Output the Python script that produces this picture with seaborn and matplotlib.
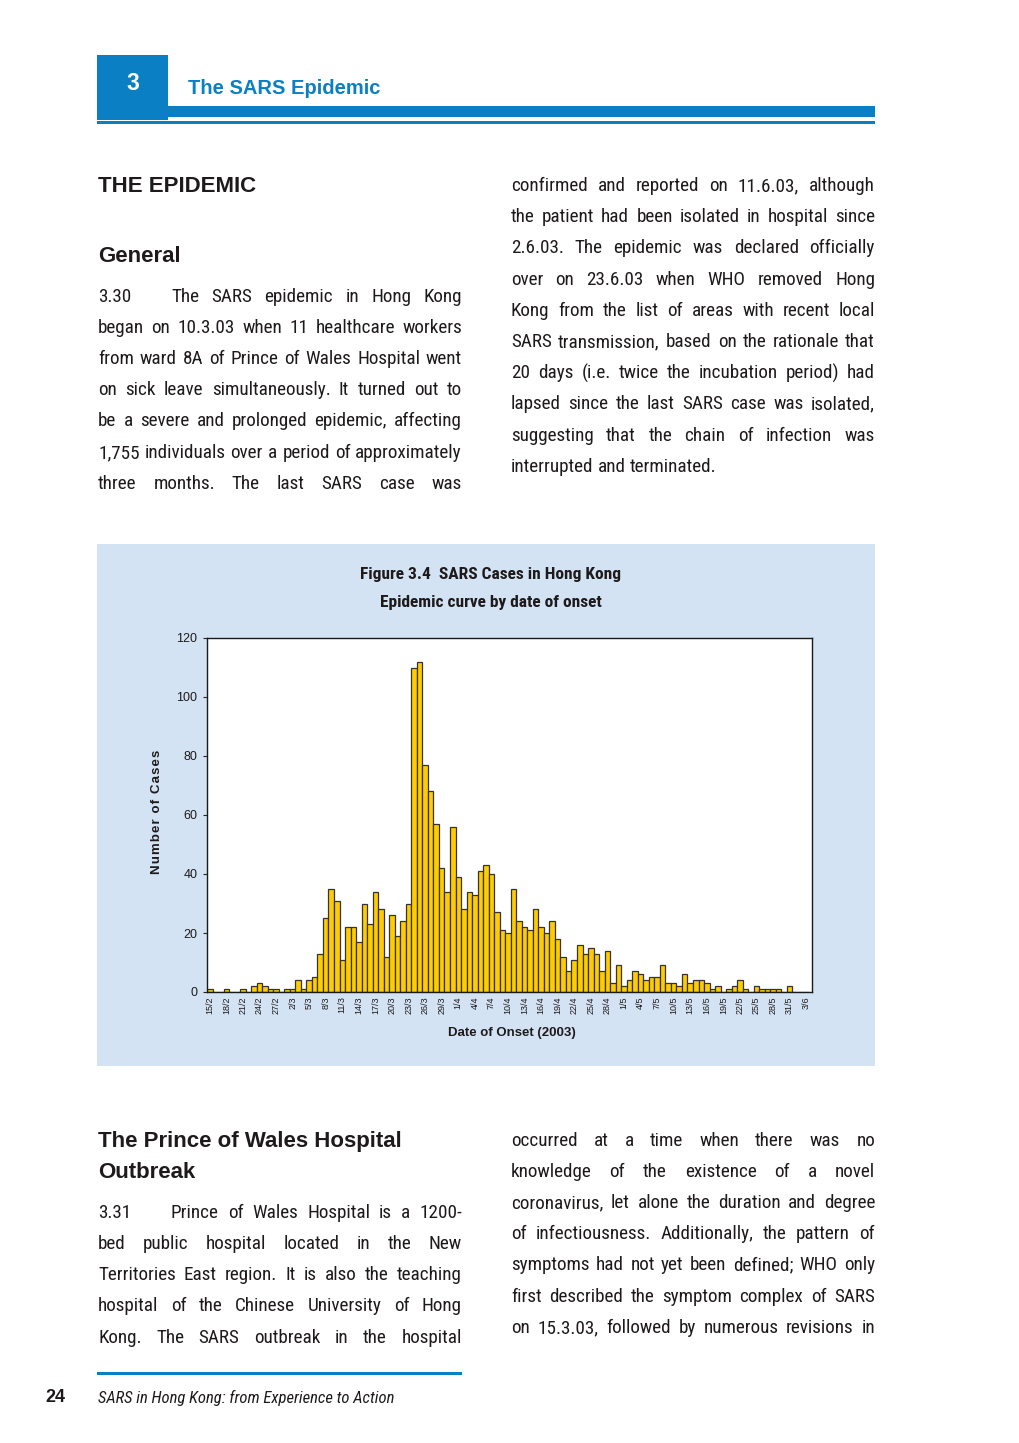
import matplotlib
matplotlib.use("Agg")
import matplotlib.pyplot as plt
import pandas as pd
import seaborn as sns
from matplotlib import font_manager as fm
from matplotlib.patches import Rectangle

# page size in pixels (dpi=100)
W, H = 1020, 1443

# ---- chart data: SARS cases by date of onset, 15/2/2003 - 3/6/2003 ----
onset_dates = pd.date_range("2003-02-15", "2003-06-03", freq="D")
date_labels = [f"{d.day}/{d.month}" for d in onset_dates]

cases_feb = [1, 0, 0, 1, 0, 0, 1, 0, 2, 3, 2, 1, 1, 0]
cases_mar = [1, 1, 4, 1, 4, 5, 13, 25, 35, 31,
             11, 22, 22, 17, 30, 23, 34, 28, 12, 26,
             19, 24, 30, 110, 112, 77, 68, 57, 42, 34, 56]
cases_apr = [39, 28, 34, 33, 41, 43, 40, 27, 21, 20,
             35, 24, 22, 21, 28, 22, 20, 24, 18, 12,
             7, 11, 16, 13, 15, 13, 7, 14, 3, 9]
cases_may = [2, 4, 7, 6, 4, 5, 5, 9, 3, 3,
             2, 6, 3, 4, 4, 3, 1, 2, 0, 1,
             2, 4, 1, 0, 2, 1, 1, 1, 1, 0, 2]
cases_jun = [0, 0, 0]
cases = cases_feb + cases_mar + cases_apr + cases_may + cases_jun

y_ticks = [0, 20, 40, 60, 80, 100, 120]

# ---- page text ----
left_top = [
    "began on 10.3.03 when 11 healthcare workers",
    "from ward 8A of Prince of Wales Hospital went",
    "on sick leave simultaneously.  It turned out to",
    "be a severe and prolonged epidemic, affecting",
    "1,755 individuals over a period of approximately",
    "three months.  The last SARS case was",
]
right_top = [
    "confirmed and reported on 11.6.03, although",
    "the patient had been isolated in hospital since",
    "2.6.03.  The epidemic was declared officially",
    "over on 23.6.03 when WHO removed Hong",
    "Kong from the list of areas with recent local",
    "SARS transmission, based on the rationale that",
    "20 days (i.e. twice the incubation period) had",
    "lapsed since the last SARS case was isolated,",
    "suggesting that the chain of infection was",
    "interrupted and terminated.",
]
left_bottom = [
    "bed public hospital located in the New",
    "Territories East region.  It is also the teaching",
    "hospital of the Chinese University of Hong",
    "Kong.  The SARS outbreak in the hospital",
]
right_bottom = [
    "occurred at a time when there was no",
    "knowledge of the existence of a novel",
    "coronavirus, let alone the duration and degree",
    "of infectiousness.  Additionally, the pattern of",
    "symptoms had not yet been defined; WHO only",
    "first described the symptom complex of SARS",
    "on 15.3.03, followed by numerous revisions in",
]

BLUE = "#0a7fc4"
PANEL = "#d3e3f3"
BAR = "#ffcc00"
TXT = "#1e1a1b"

sns.set_style("white")
installed = {f.name for f in fm.fontManager.ttflist}
SANS = "Liberation Sans" if "Liberation Sans" in installed else "DejaVu Sans"
plt.rcParams["font.family"] = [SANS, "DejaVu Sans"]


def find_narrow():
    for name in ["Liberation Sans Narrow", "Roboto Condensed", "Noto Sans Condensed",
                 "Open Sans Condensed", "DejaVu Sans Condensed", "Arial Narrow"]:
        if name in installed:
            return {"family": name}
    for f in fm.fontManager.ttflist:
        if str(f.stretch) in ("condensed", "semi-condensed") and f.style == "normal":
            return {"family": f.name, "stretch": "condensed"}
    return {"family": SANS}


NARROW = find_narrow()

fig = plt.figure(figsize=(W / 100, H / 100), dpi=100)
fig.patch.set_facecolor("white")
renderer = fig.canvas.get_renderer()


def px(x, y):
    return x / W, 1 - y / H


def rect(x0, y0, x1, y1, color):
    fig.add_artist(Rectangle(px(x0, y1), (x1 - x0) / W, (y1 - y0) / H,
                             transform=fig.transFigure, color=color, lw=0, zorder=0))


def text_width(s, size, **kw):
    t = fig.text(0, 0, s, fontsize=size, **kw)
    w = t.get_window_extent(renderer).width
    t.remove()
    return w


# pick one body size so that every line fits its column with normal spacing
BODY = 16.0
fit = [(364, t) for t in left_top + right_top + left_bottom + right_bottom]
fit += [(291, "The SARS epidemic in Hong Kong"), (291, "Prince of Wales Hospital is a 1200-")]
scale = min(avail / (text_width(" ".join(t.split()), BODY, **NARROW) * 1.005) for avail, t in fit)
BODY = min(BODY, BODY * scale)


def line(text, x0, x1, yc, justify=True, size=None):
    size = size or BODY
    words = text.split()
    arts = [fig.text(0, 0, w, fontsize=size, color=TXT, ha="left", va="center", **NARROW)
            for w in words]
    widths = [a.get_window_extent(renderer).width for a in arts]
    if justify and len(words) > 1:
        gap = (x1 - x0 - sum(widths)) / (len(words) - 1)
    else:
        gap = text_width("a a", size, **NARROW) - text_width("aa", size, **NARROW)
    x = x0
    for a, w in zip(arts, widths):
        a.set_position(px(x, yc))
        x += w + gap


# ---- header ----
rect(97, 55, 168, 120, BLUE)
rect(168, 106, 875, 117, BLUE)
rect(97, 121.5, 875, 123.5, BLUE)
fig.text(*px(133, 83), "3", color="white", fontsize=16.5, weight="bold",
         ha="center", va="center")
fig.text(*px(188, 88), "The SARS Epidemic", color=BLUE, fontsize=14.5,
         weight="bold", ha="left", va="center")

# ---- upper text columns ----
fig.text(*px(98, 186), "THE EPIDEMIC", fontsize=16, weight="bold", color=TXT, va="center")
fig.text(*px(98, 256), "General", fontsize=16, weight="bold", color=TXT, va="center")
fig.text(*px(98, 297), "3.30", fontsize=BODY, color=TXT, va="center", **NARROW)
line("The SARS epidemic in Hong Kong", 171, 462, 297)
for t, y in zip(left_top, [328, 359, 390, 421, 453, 484]):
    line(t, 98, 462, y)
for i, (t, y) in enumerate(zip(right_top, [186, 217, 248, 280, 311, 342, 373, 404, 436, 467])):
    line(t, 511, 875, y, justify=i < len(right_top) - 1)

# ---- chart panel ----
rect(97, 544, 875, 1066, PANEL)
title_size = min(12.5, 12.5 * 271 / text_width("Figure 3.4  SARS Cases in Hong Kong", 12.5,
                                                weight="bold", **NARROW))
fig.text(*px(491, 575), "Figure 3.4  SARS Cases in Hong Kong", fontsize=title_size,
         weight="bold", color=TXT, ha="center", va="center", **NARROW)
fig.text(*px(491, 603), "Epidemic curve by date of onset", fontsize=title_size,
         weight="bold", color=TXT, ha="center", va="center", **NARROW)

ax = fig.add_axes([207 / W, 1 - 992 / H, 605 / W, 354 / H])
ax.set_zorder(3)
ax.set_facecolor("white")
df = pd.DataFrame({"date": date_labels, "cases": cases})
sns.barplot(data=df, x="date", y="cases", order=date_labels, color=BAR,
            saturation=1, width=1.0, edgecolor="#333333", linewidth=0.9, ax=ax)
ax.set_xlim(-0.5, 109.05)
ax.set_ylim(0, 120)
ax.set_yticks(y_ticks)
ax.set_yticklabels([str(v) for v in y_ticks], fontsize=9, color=TXT)
ax.set_xticks(range(0, len(date_labels), 3))
ax.set_xticklabels(date_labels[::3], rotation=90, fontsize=6.5, color=TXT)
ax.tick_params(axis="y", length=3, width=0.8, pad=4, left=True, direction="out")
ax.tick_params(axis="x", length=0, pad=3)
ax.set_xlabel("")
ax.set_ylabel("")
for s in ax.spines.values():
    s.set_color("#1a1a1a")
    s.set_linewidth(1)
# letter-spaced axis label, as in the printed figure
fig.text(*px(157, 812), "\u200a".join("Number of Cases"), rotation=90, fontsize=9.5,
         weight="bold", color=TXT, ha="center", va="center")
fig.text(*px(512, 1033), "Date of Onset (2003)", fontsize=9.5, weight="bold",
         color=TXT, ha="center", va="center")

# ---- lower text columns ----
fig.text(*px(98, 1141), "The Prince of Wales Hospital", fontsize=16, weight="bold",
         color=TXT, va="center")
fig.text(*px(98, 1172), "Outbreak", fontsize=16, weight="bold", color=TXT, va="center")
fig.text(*px(98, 1213), "3.31", fontsize=BODY, color=TXT, va="center", **NARROW)
line("Prince of Wales Hospital is a 1200-", 171, 462, 1213)
for t, y in zip(left_bottom, [1244, 1275, 1306, 1338]):
    line(t, 98, 462, y)
for t, y in zip(right_bottom, [1141, 1172, 1203, 1234, 1265, 1297, 1328]):
    line(t, 511, 875, y)

# ---- footer ----
rect(97, 1371.5, 462, 1374.5, BLUE)
fig.text(*px(55, 1398), "24", fontsize=13, weight="bold", color=TXT,
         ha="center", va="center")
foot = "SARS in Hong Kong: from Experience to Action"
foot_size = min(12, 12 * 298 / text_width(foot, 12, style="italic", **NARROW))
fig.text(*px(98, 1398), foot, fontsize=foot_size, style="italic", color=TXT,
         va="center", **NARROW)

fig.savefig("out.png", dpi=100)
plt.close(fig)
